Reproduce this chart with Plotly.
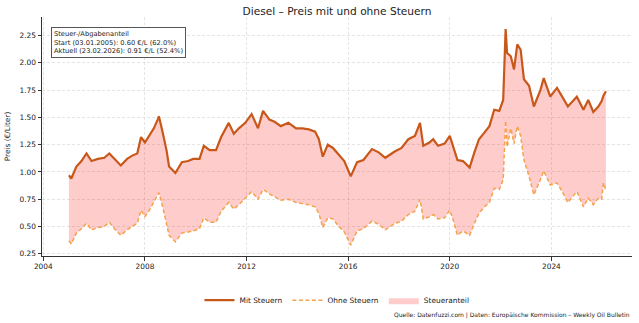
import plotly.graph_objects as go

dates = [
    "2005-01-03", "2005-02-07", "2005-04-20", "2005-07-02", "2005-09-13", "2005-11-24",
    "2006-02-24", "2006-05-27", "2006-08-07", "2006-10-19",
    "2007-01-19", "2007-04-20", "2007-07-02", "2007-09-13", "2007-11-06",
    "2008-01-01", "2008-03-14", "2008-05-08", "2008-07-02", "2008-07-20", "2008-09-13", "2008-11-06", "2008-12-13",
    "2009-03-14", "2009-06-14", "2009-09-13", "2009-11-24",
    "2010-02-24", "2010-04-27", "2010-07-20", "2010-10-19",
    "2011-01-01", "2011-04-20", "2011-07-02", "2011-09-13", "2011-12-13",
    "2012-03-14", "2012-06-14", "2012-08-25", "2012-11-24",
    "2013-02-07", "2013-05-08", "2013-08-25", "2013-12-13",
    "2014-03-14", "2014-06-14", "2014-09-13", "2014-11-06",
    "2015-01-01", "2015-03-14", "2015-05-27", "2015-08-07", "2015-11-06",
    "2016-02-07", "2016-05-08", "2016-08-07", "2016-12-09",
    "2017-03-14", "2017-06-18", "2017-11-06",
    "2018-02-07", "2018-05-15", "2018-08-18", "2018-10-30", "2018-12-16",
    "2019-03-14", "2019-05-08", "2019-07-16", "2019-10-19",
    "2020-01-01", "2020-02-24", "2020-04-20", "2020-07-09", "2020-10-12", "2020-12-20",
    "2021-02-24", "2021-05-12", "2021-07-24", "2021-10-01", "2021-12-13",
    "2022-02-07", "2022-03-14", "2022-04-04", "2022-05-27", "2022-07-13", "2022-08-29", "2022-10-16", "2022-12-02",
    "2023-02-14", "2023-04-24", "2023-07-27", "2023-09-13", "2023-12-16",
    "2024-03-21", "2024-05-27", "2024-08-25",
    "2025-01-01", "2025-04-06", "2025-06-14", "2025-08-25", "2025-11-06", "2025-12-24",
    "2026-01-18", "2026-02-23",
]

mit_steuern = [
    0.97, 0.94, 1.05, 1.10, 1.17, 1.10,
    1.12, 1.13, 1.17, 1.12,
    1.06, 1.12, 1.15, 1.17, 1.32,
    1.27, 1.34, 1.40, 1.48, 1.51, 1.36, 1.20, 1.05,
    0.99, 1.09, 1.10, 1.12,
    1.12, 1.24, 1.20, 1.20,
    1.32, 1.45, 1.35, 1.40, 1.45,
    1.53, 1.40, 1.56, 1.48,
    1.46, 1.42, 1.45, 1.40,
    1.40, 1.39, 1.37, 1.30,
    1.14, 1.25, 1.22, 1.17, 1.10,
    0.96, 1.09, 1.11, 1.21,
    1.18, 1.13, 1.19,
    1.22, 1.30, 1.33, 1.45, 1.24,
    1.27, 1.30, 1.24, 1.26,
    1.33, 1.22, 1.11, 1.10, 1.04, 1.18,
    1.30, 1.36, 1.42, 1.57, 1.56,
    1.66, 2.31, 2.09, 2.06, 1.94, 2.17, 2.12, 1.85,
    1.79, 1.60, 1.75, 1.86, 1.69,
    1.77, 1.70, 1.60,
    1.69, 1.57, 1.66, 1.55, 1.60, 1.65,
    1.70, 1.74,
]

ohne_steuern = [
    0.37, 0.34, 0.44, 0.48, 0.53, 0.47,
    0.49, 0.50, 0.54, 0.48,
    0.42, 0.47, 0.50, 0.53, 0.65,
    0.59, 0.66, 0.72, 0.79, 0.81, 0.68, 0.54, 0.42,
    0.36, 0.44, 0.45, 0.46,
    0.48, 0.58, 0.54, 0.54,
    0.64, 0.72, 0.66, 0.70, 0.76,
    0.82, 0.75, 0.84, 0.80,
    0.77, 0.74, 0.75, 0.72,
    0.71, 0.70, 0.68, 0.62,
    0.49, 0.58, 0.57, 0.51, 0.45,
    0.33, 0.46, 0.48, 0.55,
    0.52, 0.47, 0.53,
    0.55, 0.61, 0.64, 0.75, 0.57,
    0.59, 0.61, 0.57, 0.58,
    0.65, 0.55, 0.42, 0.46, 0.42, 0.53,
    0.62, 0.68, 0.72, 0.85, 0.84,
    0.93, 1.47, 1.23, 1.40, 1.26, 1.42, 1.33, 1.11,
    0.96, 0.79, 0.93, 1.01, 0.88,
    0.90, 0.83, 0.72,
    0.82, 0.68, 0.76, 0.70, 0.76, 0.75,
    0.90, 0.83,
]

year_ticks = ["2004-01-01", "2008-01-01", "2012-01-01", "2016-01-01", "2020-01-01", "2024-01-01"]
year_labels = ["2004", "2008", "2012", "2016", "2020", "2024"]
y_ticks = [0.25, 0.50, 0.75, 1.00, 1.25, 1.50, 1.75, 2.00, 2.25]

C_MIT = "#c8581a"
C_OHNE = "#f5a24c"
C_FILL = "rgba(255,0,0,0.2)"
FONT = "DejaVu Sans"

fig = go.Figure()
# base for fill
fig.add_trace(go.Scatter(x=dates, y=ohne_steuern, mode="lines", line=dict(width=0),
                         showlegend=False, hoverinfo="skip"))
fig.add_trace(go.Scatter(x=dates, y=mit_steuern, mode="lines", line=dict(width=0),
                         fill="tonexty", fillcolor=C_FILL, name="Steueranteil",
                         legendrank=3))
fig.add_trace(go.Scatter(x=dates, y=mit_steuern, mode="lines",
                         line=dict(color=C_MIT, width=2.2), name="Mit Steuern", legendrank=1))
fig.add_trace(go.Scatter(x=dates, y=ohne_steuern, mode="lines",
                         line=dict(color=C_OHNE, width=1.5, dash="4px,2.5px"),
                         name="Ohne Steuern", legendrank=2))

axis_common = dict(
    showline=True, linecolor="#333", linewidth=1,
    ticks="outside", ticklen=3.5, tickcolor="#333",
    showgrid=True, gridcolor="rgba(190,190,190,0.4)", griddash="3px,2px", gridwidth=0.7,
    zeroline=False, mirror=False,
    tickfont=dict(family=FONT, size=7.4, color="#222"),
)

fig.update_layout(
    width=639, height=323,
    margin=dict(l=38, r=7, t=17, b=67),
    paper_bgcolor="white", plot_bgcolor="white",
    font=dict(family=FONT, color="#222"),
    title=dict(text="Diesel – Preis mit und ohne Steuern", x=0.5, xref="paper",
               y=1 - 11 / 323, yref="container", yanchor="middle",
               font=dict(family=FONT, size=10.6, color="#222")),
    xaxis=dict(type="date", range=["2003-12-13", "2027-03-05"],
               tickvals=year_ticks, ticktext=year_labels, **axis_common),
    yaxis=dict(range=[0.23, 2.42], tickvals=y_ticks,
               ticktext=[f"{v:.2f}" for v in y_ticks],
               title=dict(text="Preis (€/Liter)", font=dict(family=FONT, size=7.4), standoff=7),
               **axis_common),
    legend=dict(orientation="h", x=0.5, xanchor="center", y=-0.185, yanchor="middle",
                traceorder="normal",
                font=dict(family=FONT, size=7.4), itemwidth=30, tracegroupgap=0,
                bgcolor="rgba(0,0,0,0)"),
    annotations=[
        dict(text="Steuer-/Abgabenanteil<br>Start (03.01.2005): 0.60 €/L (62.0%)<br>"
                  "Aktuell (23.02.2026): 0.91 €/L (52.4%)",
             xref="paper", yref="paper", x=0.015, y=0.957, xanchor="left", yanchor="top",
             align="left", showarrow=False, bgcolor="white", bordercolor="#555",
             borderwidth=1, borderpad=2,
             font=dict(family=FONT, size=6.7, color="#222")),
        dict(text="Quelle: Datenfuzzi.com | Daten: Europäische Kommission – Weekly Oil Bulletin",
             xref="paper", yref="paper", x=1.0, y=-0.247, xanchor="right", yanchor="middle",
             showarrow=False, font=dict(family=FONT, size=6.0, color="#222")),
    ],
)

fig.write_html("out.html")
